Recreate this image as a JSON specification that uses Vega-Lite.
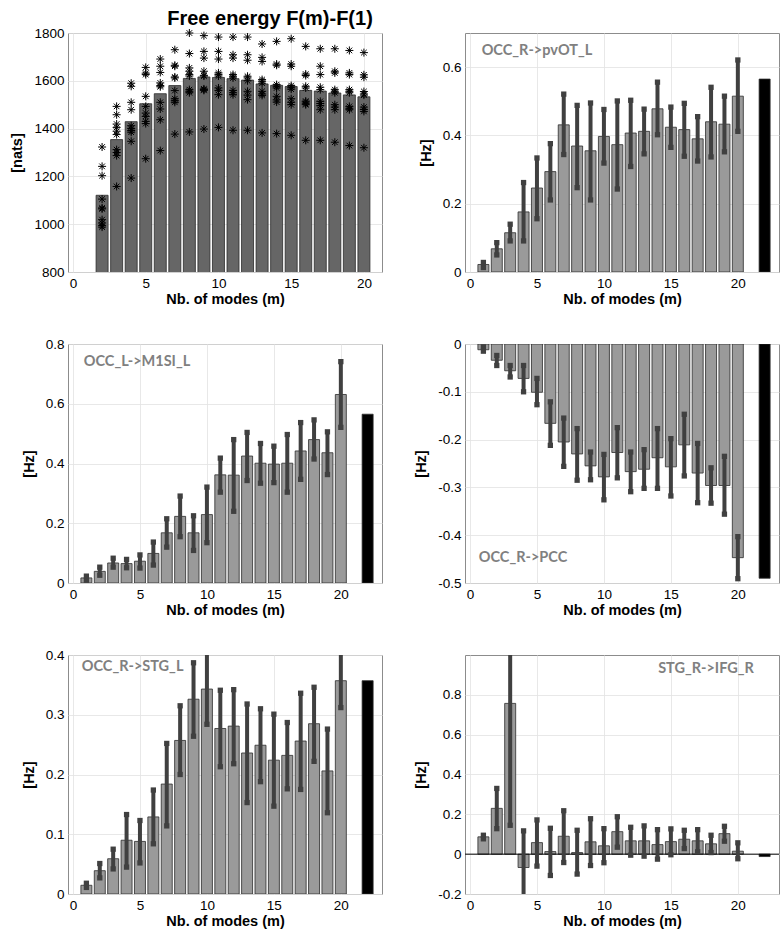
{
  "$schema": "https://vega.github.io/schema/vega-lite/v6.json",
  "background": "white",
  "padding": {"left": 9, "top": 8, "right": 2, "bottom": 2},
  "config": {
    "font": "Liberation Sans",
    "view": {"stroke": "#8c8c8c", "strokeWidth": 1},
    "axis": {
      "labelFont": "Liberation Sans", "labelFontSize": 13.5, "labelColor": "#000000",
      "titleFont": "Liberation Sans", "titleFontSize": 14.5, "titleFontWeight": "bold", "titleColor": "#000000",
      "domain": false, "ticks": false, "grid": true, "gridColor": "#e2e2e2", "gridWidth": 0.8,
      "labelPadding": 4
    },
    "axisY": {"titlePadding": 9},
    "axisX": {"titlePadding": 3}
  },
  "datasets": {
    "fe": [
      {"m":2,"v":1121},{"m":3,"v":1354},{"m":4,"v":1429},{"m":5,"v":1504},{"m":6,"v":1546},{"m":7,"v":1580},{"m":8,"v":1610},{"m":9,"v":1616},{"m":10,"v":1614},{"m":11,"v":1609},{"m":12,"v":1603},{"m":13,"v":1587},{"m":14,"v":1581},{"m":15,"v":1576},{"m":16,"v":1560},{"m":17,"v":1557},{"m":18,"v":1549},{"m":19,"v":1541},{"m":20,"v":1533}
    ],
    "fe_pts": [
      {"m":2,"F":1323},{"m":2,"F":1242},{"m":2,"F":1203},{"m":2,"F":1105},{"m":2,"F":1068},{"m":2,"F":1064},{"m":2,"F":1019},{"m":2,"F":1005},{"m":2,"F":995},{"m":2,"F":988},
      {"m":3,"F":1493},{"m":3,"F":1458},{"m":3,"F":1419},{"m":3,"F":1405},{"m":3,"F":1389},{"m":3,"F":1375},{"m":3,"F":1312},{"m":3,"F":1300},{"m":3,"F":1287},{"m":3,"F":1158},
      {"m":4,"F":1590},{"m":4,"F":1577},{"m":4,"F":1510},{"m":4,"F":1479},{"m":4,"F":1412},{"m":4,"F":1400},{"m":4,"F":1392},{"m":4,"F":1385},{"m":4,"F":1347},{"m":4,"F":1193},
      {"m":5,"F":1656},{"m":5,"F":1632},{"m":5,"F":1626},{"m":5,"F":1535},{"m":5,"F":1493},{"m":5,"F":1465},{"m":5,"F":1451},{"m":5,"F":1430},{"m":5,"F":1421},{"m":5,"F":1274},
      {"m":6,"F":1691},{"m":6,"F":1661},{"m":6,"F":1635},{"m":6,"F":1591},{"m":6,"F":1580},{"m":6,"F":1575},{"m":6,"F":1510},{"m":6,"F":1482},{"m":6,"F":1437},{"m":6,"F":1308},
      {"m":7,"F":1730},{"m":7,"F":1665},{"m":7,"F":1661},{"m":7,"F":1616},{"m":7,"F":1612},{"m":7,"F":1559},{"m":7,"F":1525},{"m":7,"F":1517},{"m":7,"F":1510},{"m":7,"F":1377},
      {"m":8,"F":1800},{"m":8,"F":1714},{"m":8,"F":1654},{"m":8,"F":1640},{"m":8,"F":1626},{"m":8,"F":1620},{"m":8,"F":1563},{"m":8,"F":1556},{"m":8,"F":1550},{"m":8,"F":1386},
      {"m":9,"F":1789},{"m":9,"F":1723},{"m":9,"F":1695},{"m":9,"F":1640},{"m":9,"F":1623},{"m":9,"F":1620},{"m":9,"F":1566},{"m":9,"F":1563},{"m":9,"F":1560},{"m":9,"F":1398},
      {"m":10,"F":1783},{"m":10,"F":1723},{"m":10,"F":1691},{"m":10,"F":1633},{"m":10,"F":1626},{"m":10,"F":1620},{"m":10,"F":1570},{"m":10,"F":1560},{"m":10,"F":1542},{"m":10,"F":1405},
      {"m":11,"F":1783},{"m":11,"F":1709},{"m":11,"F":1695},{"m":11,"F":1626},{"m":11,"F":1619},{"m":11,"F":1612},{"m":11,"F":1560},{"m":11,"F":1550},{"m":11,"F":1542},{"m":11,"F":1393},
      {"m":12,"F":1783},{"m":12,"F":1709},{"m":12,"F":1686},{"m":12,"F":1619},{"m":12,"F":1612},{"m":12,"F":1600},{"m":12,"F":1556},{"m":12,"F":1540},{"m":12,"F":1521},{"m":12,"F":1393},
      {"m":13,"F":1754},{"m":13,"F":1698},{"m":13,"F":1681},{"m":13,"F":1605},{"m":13,"F":1598},{"m":13,"F":1590},{"m":13,"F":1556},{"m":13,"F":1545},{"m":13,"F":1539},{"m":13,"F":1382},
      {"m":14,"F":1765},{"m":14,"F":1670},{"m":14,"F":1665},{"m":14,"F":1584},{"m":14,"F":1577},{"m":14,"F":1570},{"m":14,"F":1535},{"m":14,"F":1520},{"m":14,"F":1511},{"m":14,"F":1379},
      {"m":15,"F":1776},{"m":15,"F":1670},{"m":15,"F":1661},{"m":15,"F":1580},{"m":15,"F":1573},{"m":15,"F":1565},{"m":15,"F":1525},{"m":15,"F":1510},{"m":15,"F":1500},{"m":15,"F":1372},
      {"m":16,"F":1744},{"m":16,"F":1628},{"m":16,"F":1622},{"m":16,"F":1577},{"m":16,"F":1570},{"m":16,"F":1515},{"m":16,"F":1511},{"m":16,"F":1504},{"m":16,"F":1500},{"m":16,"F":1351},
      {"m":17,"F":1734},{"m":17,"F":1661},{"m":17,"F":1626},{"m":17,"F":1573},{"m":17,"F":1563},{"m":17,"F":1514},{"m":17,"F":1505},{"m":17,"F":1496},{"m":17,"F":1479},{"m":17,"F":1351},
      {"m":18,"F":1734},{"m":18,"F":1640},{"m":18,"F":1633},{"m":18,"F":1563},{"m":18,"F":1556},{"m":18,"F":1550},{"m":18,"F":1500},{"m":18,"F":1490},{"m":18,"F":1479},{"m":18,"F":1343},
      {"m":19,"F":1727},{"m":19,"F":1633},{"m":19,"F":1626},{"m":19,"F":1563},{"m":19,"F":1556},{"m":19,"F":1550},{"m":19,"F":1493},{"m":19,"F":1485},{"m":19,"F":1479},{"m":19,"F":1329},
      {"m":20,"F":1718},{"m":20,"F":1625},{"m":20,"F":1615},{"m":20,"F":1555},{"m":20,"F":1545},{"m":20,"F":1540},{"m":20,"F":1490},{"m":20,"F":1480},{"m":20,"F":1472},{"m":20,"F":1320}
    ],
    "p1": [
      {"m":1,"v":0.022,"lo":0.013,"hi":0.028},{"m":2,"v":0.068,"lo":0.05,"hi":0.086},{"m":3,"v":0.115,"lo":0.091,"hi":0.14},{"m":4,"v":0.176,"lo":0.091,"hi":0.262},{"m":5,"v":0.246,"lo":0.156,"hi":0.334},{"m":6,"v":0.294,"lo":0.211,"hi":0.376},{"m":7,"v":0.431,"lo":0.344,"hi":0.521},{"m":8,"v":0.369,"lo":0.247,"hi":0.488},{"m":9,"v":0.355,"lo":0.211,"hi":0.495},{"m":10,"v":0.397,"lo":0.319,"hi":0.476},{"m":11,"v":0.373,"lo":0.243,"hi":0.501},{"m":12,"v":0.407,"lo":0.309,"hi":0.503},{"m":13,"v":0.412,"lo":0.346,"hi":0.477},{"m":14,"v":0.478,"lo":0.402,"hi":0.556},{"m":15,"v":0.424,"lo":0.365,"hi":0.483},{"m":16,"v":0.417,"lo":0.339,"hi":0.494},{"m":17,"v":0.39,"lo":0.325,"hi":0.455},{"m":18,"v":0.44,"lo":0.337,"hi":0.541},{"m":19,"v":0.433,"lo":0.352,"hi":0.515},{"m":20,"v":0.515,"lo":0.412,"hi":0.621},{"m":22,"v":0.565}
    ],
    "p2": [
      {"m":1,"v":0.017,"lo":0.009,"hi":0.023},{"m":2,"v":0.039,"lo":0.026,"hi":0.053},{"m":3,"v":0.067,"lo":0.053,"hi":0.083},{"m":4,"v":0.065,"lo":0.051,"hi":0.079},{"m":5,"v":0.073,"lo":0.05,"hi":0.094},{"m":6,"v":0.099,"lo":0.06,"hi":0.137},{"m":7,"v":0.168,"lo":0.12,"hi":0.215},{"m":8,"v":0.223,"lo":0.155,"hi":0.291},{"m":9,"v":0.168,"lo":0.109,"hi":0.225},{"m":10,"v":0.229,"lo":0.135,"hi":0.321},{"m":11,"v":0.362,"lo":0.304,"hi":0.418},{"m":12,"v":0.361,"lo":0.24,"hi":0.48},{"m":13,"v":0.425,"lo":0.343,"hi":0.504},{"m":14,"v":0.401,"lo":0.334,"hi":0.467},{"m":15,"v":0.398,"lo":0.336,"hi":0.458},{"m":16,"v":0.401,"lo":0.304,"hi":0.497},{"m":17,"v":0.442,"lo":0.347,"hi":0.537},{"m":18,"v":0.48,"lo":0.415,"hi":0.546},{"m":19,"v":0.436,"lo":0.363,"hi":0.506},{"m":20,"v":0.631,"lo":0.521,"hi":0.741},{"m":22,"v":0.565}
    ],
    "p3": [
      {"m":1,"v":-0.012,"lo":-0.015,"hi":-0.006},{"m":2,"v":-0.034,"lo":-0.045,"hi":-0.024},{"m":3,"v":-0.056,"lo":-0.069,"hi":-0.045},{"m":4,"v":-0.072,"lo":-0.1,"hi":-0.045},{"m":5,"v":-0.101,"lo":-0.127,"hi":-0.072},{"m":6,"v":-0.166,"lo":-0.212,"hi":-0.121},{"m":7,"v":-0.205,"lo":-0.256,"hi":-0.155},{"m":8,"v":-0.23,"lo":-0.285,"hi":-0.177},{"m":9,"v":-0.255,"lo":-0.284,"hi":-0.226},{"m":10,"v":-0.278,"lo":-0.326,"hi":-0.231},{"m":11,"v":-0.227,"lo":-0.28,"hi":-0.175},{"m":12,"v":-0.267,"lo":-0.309,"hi":-0.226},{"m":13,"v":-0.262,"lo":-0.302,"hi":-0.221},{"m":14,"v":-0.238,"lo":-0.302,"hi":-0.177},{"m":15,"v":-0.257,"lo":-0.318,"hi":-0.198},{"m":16,"v":-0.211,"lo":-0.276,"hi":-0.147},{"m":17,"v":-0.27,"lo":-0.332,"hi":-0.208},{"m":18,"v":-0.296,"lo":-0.333,"hi":-0.259},{"m":19,"v":-0.296,"lo":-0.356,"hi":-0.235},{"m":20,"v":-0.447,"lo":-0.491,"hi":-0.403},{"m":22,"v":-0.49}
    ],
    "p4": [
      {"m":1,"v":0.0146,"lo":0.011,"hi":0.018},{"m":2,"v":0.039,"lo":0.027,"hi":0.051},{"m":3,"v":0.059,"lo":0.042,"hi":0.075},{"m":4,"v":0.09,"lo":0.045,"hi":0.133},{"m":5,"v":0.088,"lo":0.052,"hi":0.123},{"m":6,"v":0.129,"lo":0.084,"hi":0.174},{"m":7,"v":0.184,"lo":0.114,"hi":0.252},{"m":8,"v":0.257,"lo":0.2,"hi":0.315},{"m":9,"v":0.326,"lo":0.264,"hi":0.387},{"m":10,"v":0.343,"lo":0.284,"hi":0.405},{"m":11,"v":0.277,"lo":0.213,"hi":0.341},{"m":12,"v":0.281,"lo":0.218,"hi":0.342},{"m":13,"v":0.236,"lo":0.153,"hi":0.318},{"m":14,"v":0.249,"lo":0.188,"hi":0.31},{"m":15,"v":0.224,"lo":0.147,"hi":0.301},{"m":16,"v":0.232,"lo":0.176,"hi":0.287},{"m":17,"v":0.256,"lo":0.175,"hi":0.336},{"m":18,"v":0.285,"lo":0.222,"hi":0.346},{"m":19,"v":0.206,"lo":0.136,"hi":0.276},{"m":20,"v":0.357,"lo":0.312,"hi":0.41},{"m":22,"v":0.357}
    ],
    "p5": [
      {"m":1,"v":0.087,"lo":0.077,"hi":0.095},{"m":2,"v":0.23,"lo":0.128,"hi":0.33},{"m":3,"v":0.757,"lo":0.145,"hi":1.05},{"m":4,"v":-0.067,"lo":-0.25,"hi":0.117},{"m":5,"v":0.058,"lo":-0.06,"hi":0.172},{"m":6,"v":0.013,"lo":-0.107,"hi":0.13},{"m":7,"v":0.09,"lo":-0.042,"hi":0.218},{"m":8,"v":0.008,"lo":-0.1,"hi":0.12},{"m":9,"v":0.062,"lo":-0.057,"hi":0.178},{"m":10,"v":0.042,"lo":-0.043,"hi":0.128},{"m":11,"v":0.113,"lo":0.035,"hi":0.188},{"m":12,"v":0.067,"lo":-0.005,"hi":0.135},{"m":13,"v":0.067,"lo":-0.01,"hi":0.142},{"m":14,"v":0.048,"lo":-0.025,"hi":0.123},{"m":15,"v":0.063,"lo":-0.003,"hi":0.127},{"m":16,"v":0.075,"lo":0.028,"hi":0.12},{"m":17,"v":0.067,"lo":0.012,"hi":0.123},{"m":18,"v":0.052,"lo":0.008,"hi":0.095},{"m":19,"v":0.103,"lo":0.065,"hi":0.14},{"m":20,"v":0.015,"lo":-0.023,"hi":0.057},{"m":22,"v":-0.012}
    ]
  },
  "columns": 2,
  "bounds": "flush",
  "spacing": {"row": 72, "column": 83},
  "concat": [
    {
      "width": 314, "height": 239,
      "title": {"text": "Free energy F(m)-F(1)", "font": "Liberation Sans", "fontSize": 20, "fontWeight": "bold", "color": "#000000", "offset": -3, "dx": 45, "frame": "group"},
      "layer": [
        {
          "data": {"name": "fe"},
          "mark": {"type": "bar", "width": 12, "fill": "#666666", "stroke": "#2b2b2b", "strokeWidth": 0.8, "clip": true},
          "encoding": {
            "x": {"field": "m", "type": "quantitative", "scale": {"domain": [0, 20.9], "nice": false}, "axis": {"values": [0, 5, 10, 15, 20], "title": "Nb. of modes (m)"}},
            "y": {"field": "v", "type": "quantitative", "scale": {"domain": [800, 1800], "nice": false, "zero": false}, "axis": {"values": [800, 1000, 1200, 1400, 1600, 1800], "format": "d", "title": "[nats]"}}
          }
        },
        {
          "data": {"name": "fe_pts"},
          "mark": {"type": "point", "shape": "M-1,0L1,0M0,-1L0,1M-0.7,-0.7L0.7,0.7M-0.7,0.7L0.7,-0.7", "filled": false, "size": 64, "stroke": "#000000", "strokeWidth": 1, "opacity": 1},
          "encoding": {
            "x": {"field": "m", "type": "quantitative"},
            "y": {"field": "F", "type": "quantitative"}
          }
        }
      ]
    },
    {
      "width": 314, "height": 239,
      "data": {"name": "p1"},
      "layer": [
        {
          "mark": {"type": "bar", "width": 11, "stroke": "#2b2b2b", "strokeWidth": 0.8, "clip": true},
          "encoding": {
            "x": {"field": "m", "type": "quantitative", "scale": {"domain": [0, 22.7], "nice": false}, "axis": {"values": [0, 5, 10, 15, 20], "title": "Nb. of modes (m)"}},
            "y": {"field": "v", "type": "quantitative", "scale": {"domain": [0, 0.7], "nice": false}, "axis": {"values": [0, 0.1, 0.2, 0.3, 0.4, 0.5, 0.6], "title": "[Hz]", "labelExpr": "'' + datum.value"}},
            "fill": {"condition": {"test": "datum.m == 22", "value": "#000000"}, "value": "#9a9a9a"}
          }
        },
        {
          "mark": {"type": "rule", "strokeWidth": 4, "color": "#404040", "clip": true},
          "encoding": {"x": {"field": "m", "type": "quantitative"}, "y": {"field": "lo", "type": "quantitative"}, "y2": {"field": "hi"}}
        },
        {
          "mark": {"type": "point", "shape": "square", "filled": true, "size": 28, "color": "#404040", "opacity": 1, "clip": true},
          "encoding": {"x": {"field": "m", "type": "quantitative"}, "y": {"field": "lo", "type": "quantitative"}}
        },
        {
          "mark": {"type": "point", "shape": "square", "filled": true, "size": 28, "color": "#404040", "opacity": 1, "clip": true},
          "encoding": {"x": {"field": "m", "type": "quantitative"}, "y": {"field": "hi", "type": "quantitative"}}
        },
        {
          "data": {"values": [{}]},
          "mark": {"type": "text", "font": "Lato", "fontWeight": "bold", "fontSize": 14.5, "color": "#808080", "align": "left", "baseline": "middle"},
          "encoding": {"x": {"datum": 0.87}, "y": {"datum": 0.648}, "text": {"value": "OCC_R->pvOT_L"}}
        }
      ]
    },
    {
      "width": 314, "height": 239,
      "data": {"name": "p2"},
      "layer": [
        {
          "mark": {"type": "bar", "width": 11, "stroke": "#2b2b2b", "strokeWidth": 0.8, "clip": true},
          "encoding": {
            "x": {"field": "m", "type": "quantitative", "scale": {"domain": [0, 22.7], "nice": false}, "axis": {"values": [0, 5, 10, 15, 20], "title": "Nb. of modes (m)"}},
            "y": {"field": "v", "type": "quantitative", "scale": {"domain": [0, 0.8], "nice": false}, "axis": {"values": [0, 0.2, 0.4, 0.6, 0.8], "title": "[Hz]", "labelExpr": "'' + datum.value"}},
            "fill": {"condition": {"test": "datum.m == 22", "value": "#000000"}, "value": "#9a9a9a"}
          }
        },
        {
          "mark": {"type": "rule", "strokeWidth": 4, "color": "#404040", "clip": true},
          "encoding": {"x": {"field": "m", "type": "quantitative"}, "y": {"field": "lo", "type": "quantitative"}, "y2": {"field": "hi"}}
        },
        {
          "mark": {"type": "point", "shape": "square", "filled": true, "size": 28, "color": "#404040", "opacity": 1, "clip": true},
          "encoding": {"x": {"field": "m", "type": "quantitative"}, "y": {"field": "lo", "type": "quantitative"}}
        },
        {
          "mark": {"type": "point", "shape": "square", "filled": true, "size": 28, "color": "#404040", "opacity": 1, "clip": true},
          "encoding": {"x": {"field": "m", "type": "quantitative"}, "y": {"field": "hi", "type": "quantitative"}}
        },
        {
          "data": {"values": [{}]},
          "mark": {"type": "text", "font": "Lato", "fontWeight": "bold", "fontSize": 14.5, "color": "#808080", "align": "left", "baseline": "middle"},
          "encoding": {"x": {"datum": 0.8}, "y": {"datum": 0.74}, "text": {"value": "OCC_L->M1SI_L"}}
        }
      ]
    },
    {
      "width": 314, "height": 239,
      "data": {"name": "p3"},
      "layer": [
        {
          "mark": {"type": "bar", "width": 11, "stroke": "#2b2b2b", "strokeWidth": 0.8, "clip": true},
          "encoding": {
            "x": {"field": "m", "type": "quantitative", "scale": {"domain": [0, 22.7], "nice": false}, "axis": {"values": [0, 5, 10, 15, 20], "title": "Nb. of modes (m)"}},
            "y": {"field": "v", "type": "quantitative", "scale": {"domain": [-0.5, 0], "nice": false}, "axis": {"values": [-0.5, -0.4, -0.3, -0.2, -0.1, 0], "title": "[Hz]", "labelExpr": "'' + datum.value"}},
            "fill": {"condition": {"test": "datum.m == 22", "value": "#000000"}, "value": "#9a9a9a"}
          }
        },
        {
          "mark": {"type": "rule", "strokeWidth": 4, "color": "#404040", "clip": true},
          "encoding": {"x": {"field": "m", "type": "quantitative"}, "y": {"field": "lo", "type": "quantitative"}, "y2": {"field": "hi"}}
        },
        {
          "mark": {"type": "point", "shape": "square", "filled": true, "size": 28, "color": "#404040", "opacity": 1, "clip": true},
          "encoding": {"x": {"field": "m", "type": "quantitative"}, "y": {"field": "lo", "type": "quantitative"}}
        },
        {
          "mark": {"type": "point", "shape": "square", "filled": true, "size": 28, "color": "#404040", "opacity": 1, "clip": true},
          "encoding": {"x": {"field": "m", "type": "quantitative"}, "y": {"field": "hi", "type": "quantitative"}}
        },
        {
          "data": {"values": [{}]},
          "mark": {"type": "text", "font": "Lato", "fontWeight": "bold", "fontSize": 14.5, "color": "#808080", "align": "left", "baseline": "middle"},
          "encoding": {"x": {"datum": 0.65}, "y": {"datum": -0.447}, "text": {"value": "OCC_R->PCC"}}
        }
      ]
    },
    {
      "width": 314, "height": 239,
      "data": {"name": "p4"},
      "layer": [
        {
          "mark": {"type": "bar", "width": 11, "stroke": "#2b2b2b", "strokeWidth": 0.8, "clip": true},
          "encoding": {
            "x": {"field": "m", "type": "quantitative", "scale": {"domain": [0, 22.7], "nice": false}, "axis": {"values": [0, 5, 10, 15, 20], "title": "Nb. of modes (m)"}},
            "y": {"field": "v", "type": "quantitative", "scale": {"domain": [0, 0.4], "nice": false}, "axis": {"values": [0, 0.1, 0.2, 0.3, 0.4], "title": "[Hz]", "labelExpr": "'' + datum.value"}},
            "fill": {"condition": {"test": "datum.m == 22", "value": "#000000"}, "value": "#9a9a9a"}
          }
        },
        {
          "mark": {"type": "rule", "strokeWidth": 4, "color": "#404040", "clip": true},
          "encoding": {"x": {"field": "m", "type": "quantitative"}, "y": {"field": "lo", "type": "quantitative"}, "y2": {"field": "hi"}}
        },
        {
          "mark": {"type": "point", "shape": "square", "filled": true, "size": 28, "color": "#404040", "opacity": 1, "clip": true},
          "encoding": {"x": {"field": "m", "type": "quantitative"}, "y": {"field": "lo", "type": "quantitative"}}
        },
        {
          "mark": {"type": "point", "shape": "square", "filled": true, "size": 28, "color": "#404040", "opacity": 1, "clip": true},
          "encoding": {"x": {"field": "m", "type": "quantitative"}, "y": {"field": "hi", "type": "quantitative"}}
        },
        {
          "data": {"values": [{}]},
          "mark": {"type": "text", "font": "Lato", "fontWeight": "bold", "fontSize": 14.5, "color": "#808080", "align": "left", "baseline": "middle"},
          "encoding": {"x": {"datum": 0.65}, "y": {"datum": 0.38}, "text": {"value": "OCC_R->STG_L"}}
        }
      ]
    },
    {
      "width": 314, "height": 239,
      "data": {"name": "p5"},
      "layer": [
        {
          "mark": {"type": "bar", "width": 11, "stroke": "#2b2b2b", "strokeWidth": 0.8, "clip": true},
          "encoding": {
            "x": {"field": "m", "type": "quantitative", "scale": {"domain": [0, 22.7], "nice": false}, "axis": {"values": [0, 5, 10, 15, 20], "title": "Nb. of modes (m)"}},
            "y": {"field": "v", "type": "quantitative", "scale": {"domain": [-0.2, 1.0], "nice": false}, "axis": {"values": [-0.2, 0, 0.2, 0.4, 0.6, 0.8], "title": "[Hz]", "labelExpr": "'' + datum.value"}},
            "fill": {"condition": {"test": "datum.m == 22", "value": "#000000"}, "value": "#9a9a9a"}
          }
        },
        {
          "data": {"values": [{}]},
          "mark": {"type": "rule", "color": "#000000", "strokeWidth": 1},
          "encoding": {"y": {"datum": 0}}
        },
        {
          "mark": {"type": "rule", "strokeWidth": 4, "color": "#404040", "clip": true},
          "encoding": {"x": {"field": "m", "type": "quantitative"}, "y": {"field": "lo", "type": "quantitative"}, "y2": {"field": "hi"}}
        },
        {
          "mark": {"type": "point", "shape": "square", "filled": true, "size": 28, "color": "#404040", "opacity": 1, "clip": true},
          "encoding": {"x": {"field": "m", "type": "quantitative"}, "y": {"field": "lo", "type": "quantitative"}}
        },
        {
          "mark": {"type": "point", "shape": "square", "filled": true, "size": 28, "color": "#404040", "opacity": 1, "clip": true},
          "encoding": {"x": {"field": "m", "type": "quantitative"}, "y": {"field": "hi", "type": "quantitative"}}
        },
        {
          "data": {"values": [{}]},
          "mark": {"type": "text", "font": "Lato", "fontWeight": "bold", "fontSize": 14.5, "color": "#808080", "align": "right", "baseline": "middle"},
          "encoding": {"x": {"datum": 21.2}, "y": {"datum": 0.93}, "text": {"value": "STG_R->IFG_R"}}
        }
      ]
    }
  ]
}
